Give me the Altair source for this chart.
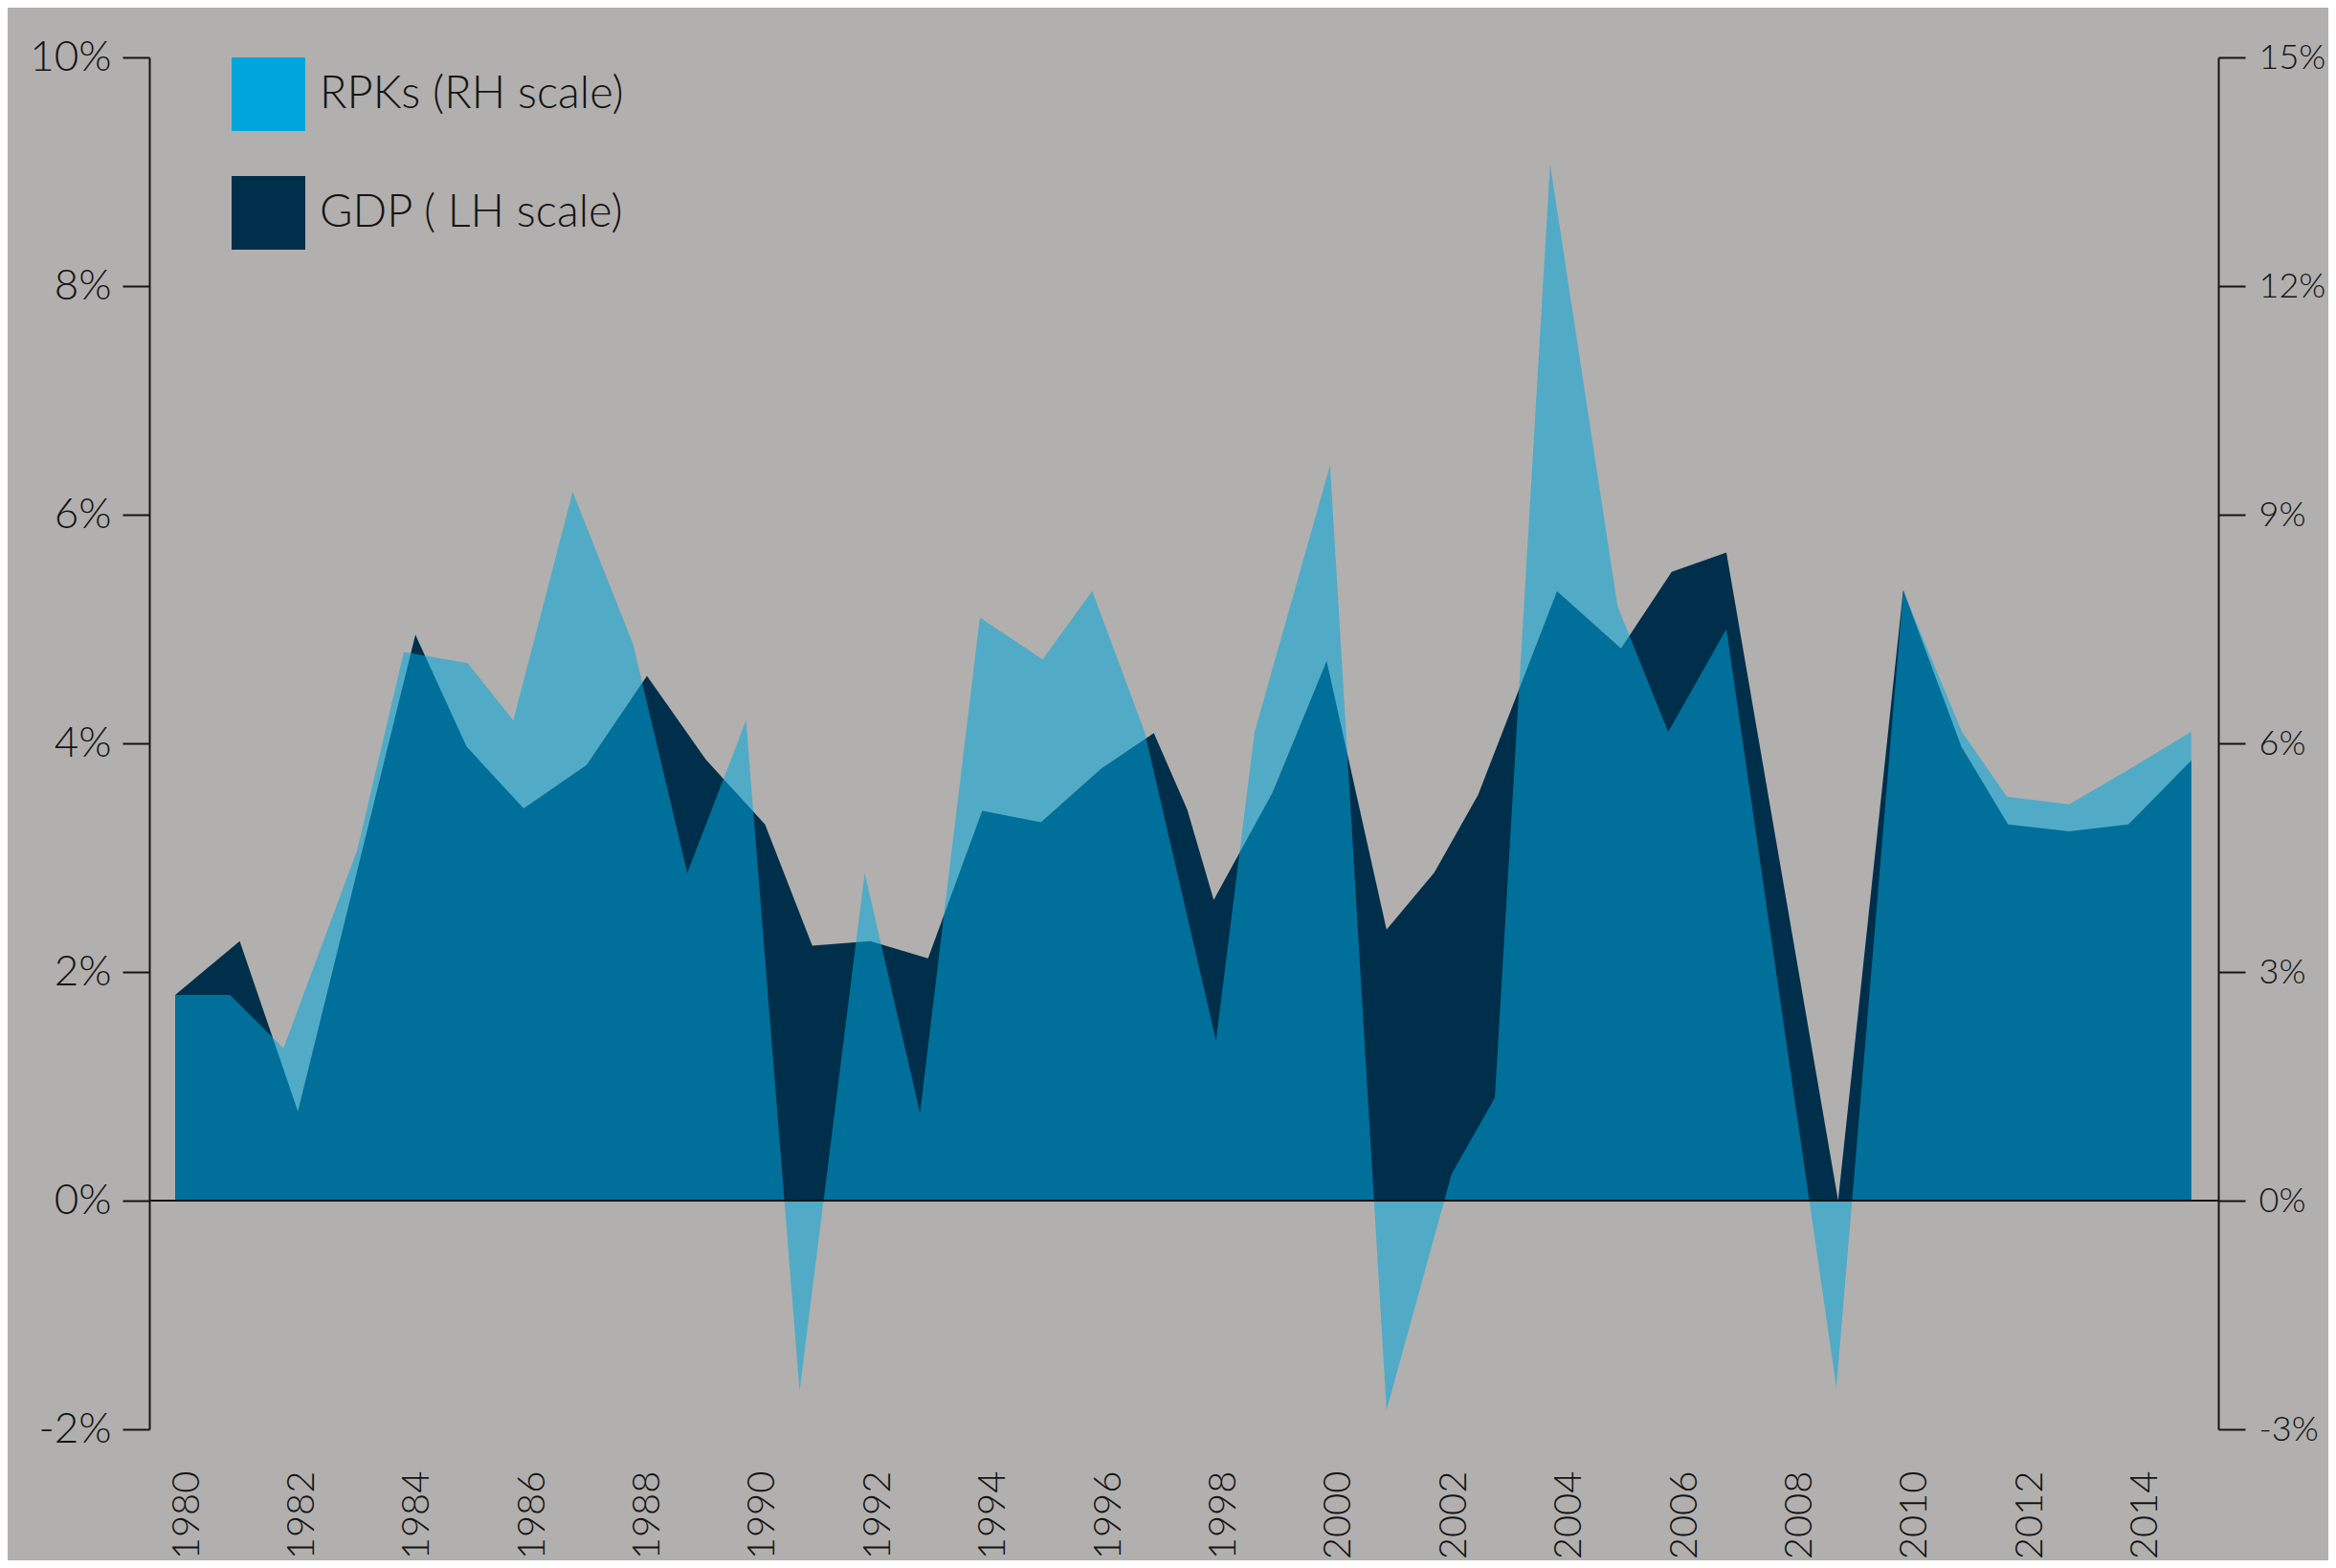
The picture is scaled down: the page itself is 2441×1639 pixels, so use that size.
import altair as alt
import pandas as pd

# ---- data (x in fractional years) ----
gdp_year = [1980.0, 1981.12, 1982.13, 1984.17, 1985.06, 1986.05, 1987.14, 1988.19, 1989.21,
            1990.24, 1991.06, 1992.07, 1993.07, 1994.01, 1995.03, 1996.08, 1996.99, 1997.57,
            1998.03, 1999.05, 1999.99, 2001.03, 2001.86, 2002.62, 2003.99, 2005.10, 2005.98,
            2006.93, 2008.87, 2010.0, 2011.01, 2011.82, 2012.88, 2013.91, 2015.0]
gdp_pct = [1.80, 2.27, 0.78, 4.95, 3.97, 3.43, 3.81, 4.59, 3.86,
           3.29, 2.23, 2.27, 2.12, 3.41, 3.31, 3.78, 4.09, 3.42,
           2.63, 3.57, 4.72, 2.37, 2.87, 3.55, 5.33, 4.83, 5.50,
           5.67, 0.0, 5.34, 3.97, 3.29, 3.23, 3.29, 3.85]

rpk_year = [1980.0, 1980.95, 1981.88, 1983.16, 1983.97, 1985.08, 1985.87, 1986.90, 1987.95,
            1988.89, 1989.91, 1990.84, 1991.97, 1992.93, 1993.97, 1995.06, 1995.92, 1996.83,
            1998.07, 1998.74, 2000.05, 2001.03, 2002.16, 2002.91, 2003.87, 2005.04, 2005.92,
            2006.93, 2008.84, 2010.0, 2011.02, 2011.80, 2012.88, 2013.9, 2015.0]
rpk_pct = [2.7, 2.7, 2.0, 4.6, 7.2, 7.05, 6.3, 9.3, 7.3,
           4.3, 6.3, -2.5, 4.3, 1.15, 7.65, 7.1, 8.0, 6.15,
           2.1, 6.15, 9.65, -2.75, 0.35, 1.35, 13.6, 7.8, 6.15,
           7.5, -2.45, 8.0, 6.15, 5.3, 5.2, 5.65, 6.15]

series_names = ["RPKs (RH scale)", "GDP ( LH scale)"]
series_colors = ["#00a6db", "#002f4b"]
x_ticks = list(range(1980, 2015, 2))
left_ticks = [-2, 0, 2, 4, 6, 8, 10]
right_ticks = [-3, 0, 3, 6, 9, 12, 15]

gdp_df = pd.DataFrame({"year": gdp_year, "value": gdp_pct, "series": series_names[1]})
rpk_df = pd.DataFrame({"year": rpk_year, "value": rpk_pct, "series": series_names[0]})
zero_df = pd.DataFrame({"z": [0]})

BG = "#b1b0ae"
INK = "#141414"
FONT = "Lato"

x_enc = alt.X(
    "year:Q",
    scale=alt.Scale(domain=[1979.55, 2015.47], nice=False, zero=False),
    axis=alt.Axis(values=x_ticks, format="d", labelAngle=270, domain=False, ticks=False,
                  grid=False, labelPadding=43, labelOffset=12, labelFontSize=40, title=None),
)

color_enc = alt.Color(
    "series:N",
    scale=alt.Scale(domain=series_names, range=series_colors),
    legend=alt.Legend(orient="none", legendX=86, legendY=0, title=None, symbolType="square",
                      symbolSize=5929, symbolOpacity=1, symbolStrokeWidth=0, labelFontSize=47,
                      labelOffset=15, rowPadding=47, padding=0, labelColor=INK, labelFont=FONT,
                      labelFontWeight=300, labelLimit=800),
)

gdp = alt.Chart(gdp_df).mark_area(interpolate="linear").encode(
    x=x_enc,
    y=alt.Y("value:Q", stack=None,
            scale=alt.Scale(domain=[-2, 10], nice=False, zero=False),
            axis=alt.Axis(orient="left", values=left_ticks, labelExpr="datum.value + '%'",
                          tickSize=28, tickWidth=2, tickColor=INK, domainColor=INK,
                          domainWidth=2, grid=False, labelPadding=12, labelFontSize=44,
                          title=None)),
    y2=alt.datum(0),
    color=color_enc,
)

rpk = alt.Chart(rpk_df).mark_area(interpolate="linear", fillOpacity=0.54).encode(
    x=x_enc,
    y=alt.Y("value:Q", stack=None,
            scale=alt.Scale(domain=[-3, 15], nice=False, zero=False),
            axis=alt.Axis(orient="right", values=right_ticks, labelExpr="datum.value + '%'",
                          tickSize=28, tickWidth=2, tickColor=INK, domainColor=INK,
                          domainWidth=2, grid=False, labelPadding=14, labelFontSize=36,
                          title=None)),
    y2=alt.datum(0),
    color=color_enc,
)

zero_rule = alt.Chart(zero_df).mark_rule(color=INK, strokeWidth=2).encode(y=alt.datum(0))

chart = alt.layer(gdp, alt.layer(rpk, zero_rule)).resolve_scale(y="independent").properties(
    width=2162,
    height=1434,
    background=BG,
    autosize=alt.AutoSizeParams(type="none"),
    padding={"left": 148, "top": 52, "right": 115, "bottom": 137},
).configure_view(stroke="transparent").configure_axis(
    labelFont=FONT, labelColor=INK, labelFontWeight=300
)

chart.save("out.html", embed_options={"renderer": "svg", "actions": False})
